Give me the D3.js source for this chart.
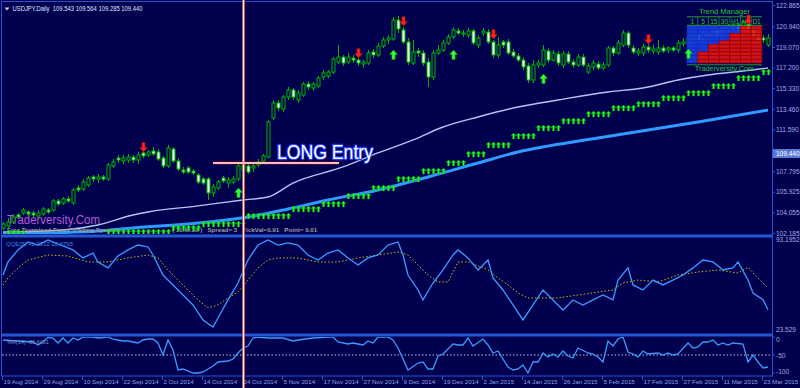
<!DOCTYPE html>
<html><head><meta charset="utf-8">
<script src="https://cdn.jsdelivr.net/npm/d3@7"></script>
<style>html,body{margin:0;padding:0;background:#00004f;overflow:hidden}</style>
</head><body><svg id="c" width="800" height="388"></svg>
<script>
// ---------------- DATA ----------------
const opens=[102.68,102.86,103.22,103.86,104.04,104.13,104.04,103.77,103.95,104.31,
104.31,105.13,104.95,105.31,104.95,106.31,106.22,106.58,107.31,107.13,
107.31,107.13,108.31,109.03,108.76,108.85,109.12,108.85,109.49,109.31,
109.67,109.58,109.03,108.31,109.85,108.76,107.94,108.13,107.85,107.49,
107.13,107.13,105.86,106.31,107.22,106.76,106.85,107.13,107.94,108.31,
108.13,108.40,108.76,109.12,112.67,114.03,113.48,114.57,115.21,114.30,
114.75,115.75,115.39,115.57,116.39,116.48,116.84,117.75,118.20,117.75,
118.11,117.93,117.57,117.66,118.66,118.39,119.20,119.75,119.84,121.56,
120.66,119.57,117.66,118.75,118.57,117.75,116.39,118.57,118.84,119.48,
120.02,120.57,120.29,120.20,120.57,119.29,120.38,120.47,119.57,118.39,
119.57,119.57,118.66,118.30,117.93,117.39,116.12,117.48,117.48,118.75,
117.93,118.48,117.48,118.48,117.75,117.48,118.20,116.84,117.30,117.57,
117.21,117.48,119.02,118.57,119.29,120.38,119.02,118.57,118.57,119.11,
118.75,118.66,119.02,118.84,119.02,118.84,119.39,119.39,119.75,120.20,
119.93,120.38,120.20,120.66,120.29,120.66,120.84,121.11,120.93,121.20,
120.66,120.11,119.93,119.29];
const highs=[103.22,103.59,103.95,104.04,104.49,104.31,104.22,104.31,104.58,104.49,
105.31,105.31,105.49,105.58,106.31,106.58,107.13,107.40,107.49,107.58,
107.49,108.58,108.94,109.31,109.31,109.40,109.31,109.58,109.67,109.76,
110.03,109.85,109.22,110.21,110.03,109.03,108.22,108.31,108.03,107.67,
107.31,107.31,106.67,107.04,107.40,107.31,107.40,108.49,108.58,108.58,
108.49,108.94,109.40,112.48,114.30,114.30,114.75,115.48,115.39,115.21,
115.94,116.03,115.94,116.48,117.02,117.02,118.20,119.29,118.39,118.57,
118.39,118.20,117.93,118.84,118.93,119.48,120.02,120.20,121.84,121.93,
120.93,119.93,119.75,119.02,118.84,118.11,118.84,119.29,119.75,120.29,
120.93,120.84,120.66,120.84,120.75,120.20,120.84,120.75,119.75,120.02,
119.75,119.84,118.93,118.57,118.20,117.66,117.93,117.93,119.29,119.02,
118.84,118.75,118.75,118.75,118.02,118.48,118.48,117.66,117.93,117.84,
117.75,119.20,119.20,119.75,120.66,120.57,119.29,119.02,119.39,119.39,
119.29,119.75,119.29,119.20,119.20,119.75,119.93,120.20,120.47,120.38,
120.66,120.57,120.84,120.84,121.02,121.20,121.29,121.29,121.56,121.29,
120.84,120.38,120.20,120.29];
const lows=[102.50,102.59,103.04,103.49,103.86,103.77,103.68,103.59,103.77,103.95,
104.13,104.68,104.77,104.95,104.77,105.95,106.04,106.40,106.85,106.76,
106.95,106.95,108.13,108.58,108.49,108.58,108.58,108.49,109.03,109.12,
109.22,108.76,108.13,108.13,108.58,107.85,107.58,107.58,107.49,106.67,
106.58,105.22,105.49,106.13,106.76,106.31,106.67,106.95,107.76,107.58,
107.76,108.22,108.58,109.03,112.48,113.30,113.21,114.30,114.30,114.03,
114.57,115.21,115.12,115.39,116.12,116.30,116.66,117.57,117.39,117.57,
117.66,117.39,117.21,117.48,118.11,118.20,119.02,119.39,119.66,120.38,
119.39,117.48,117.48,118.20,117.39,115.48,116.12,118.39,118.66,119.29,
119.84,120.20,120.02,119.93,119.29,119.02,120.11,119.39,118.11,118.11,
119.02,118.39,118.11,117.75,117.02,115.84,115.84,117.21,117.30,117.66,
117.75,117.39,117.21,117.57,117.21,117.30,117.30,116.66,117.02,117.02,
117.02,117.30,118.30,118.39,119.11,119.02,118.48,118.30,118.30,118.57,
118.48,118.39,118.57,118.57,118.66,118.57,119.11,119.11,119.48,119.57,
119.66,119.84,119.93,119.93,120.11,120.38,120.57,120.47,120.66,120.38,
119.93,119.48,119.48,119.11];
const closes=[103.04,103.22,103.68,103.68,104.31,103.95,103.86,104.04,104.40,104.13,
105.13,104.86,105.31,105.13,106.13,106.13,106.85,107.22,107.13,107.31,
107.13,108.40,108.67,108.85,109.03,109.12,108.85,109.31,109.22,109.58,
109.40,108.94,108.31,109.94,108.76,108.03,107.76,107.76,107.67,106.85,
106.76,105.86,106.40,106.85,106.95,107.04,107.13,108.31,108.40,107.76,
108.31,108.67,109.22,112.30,114.03,113.57,114.57,115.21,114.57,114.94,
115.75,115.48,115.75,116.30,116.75,116.84,118.02,118.20,117.66,118.20,
117.93,117.66,117.75,118.57,118.39,119.20,119.75,119.93,121.56,120.75,
119.57,117.75,118.66,118.57,117.66,116.39,118.57,118.84,119.48,120.02,
120.66,120.38,120.38,120.57,119.48,119.93,120.57,119.57,118.39,119.29,
119.29,118.57,118.30,117.93,117.30,116.12,117.48,117.66,118.84,117.93,
118.57,117.66,118.48,117.75,117.48,118.20,117.48,117.39,117.66,117.21,
117.48,119.02,118.57,119.48,120.38,119.29,118.66,118.75,119.11,118.84,
118.93,119.02,118.75,119.02,118.84,119.48,119.57,119.93,120.20,119.75,
120.38,120.11,120.66,120.11,120.84,121.02,121.11,120.66,121.38,120.66,
120.11,119.75,119.75,119.93];

const dateLabels=["19 Aug 2014","29 Aug 2014","10 Sep 2014","22 Sep 2014","2 Oct 2014","14 Oct 2014","24 Oct 2014","5 Nov 2014","17 Nov 2014","27 Nov 2014","9 Dec 2014","19 Dec 2014","2 Jan 2015","14 Jan 2015","26 Jan 2015","5 Feb 2015","17 Feb 2015","27 Feb 2015","11 Mar 2015","23 Mar 2015"];
const dateIdx=[0,8,16,24,32,40,48,56,64,72,80,88,96,104,112,120,128,136,144,152];
const priceTicks=[122.865,120.940,119.070,117.200,115.330,113.460,111.590,107.795,105.925,104.055,102.185];
const lastPrice=109.440;

const maFastIdx=[0,12,19,26,29,39,48,53,58,68,75,82,88,95,103,111,121,128,135,141,148,153];
const maFastVal=[102.31,102.50,102.95,103.86,104.13,104.68,105.22,105.49,106.76,108.22,109.49,110.67,111.85,112.76,113.66,114.30,115.03,115.39,116.12,116.57,116.93,117.21];
const maSlowIdx=[0,9,19,26,39,49,57,65,75,85,95,103,119,139,153];
const maSlowVal=[102.13,102.22,102.40,102.68,103.13,103.68,104.40,105.22,106.13,107.31,108.58,109.58,110.85,112.30,113.39];

const stopFrom=[1,21,34,40,49,58,64,69,74,79,84,89,93,97,102,107,112,117,122,127,132,137,142,147,152];
const stopTo=[4,33,39,48,57,63,68,73,78,83,88,92,96,101,106,111,116,121,126,131,136,141,146,151,153];
const stopPrice=[102.22,102.31,102.68,103.04,103.77,104.40,104.86,105.58,106.31,107.13,107.85,108.58,109.40,110.21,111.03,111.76,112.39,113.03,113.57,113.94,114.48,114.94,115.57,116.30,116.84];

const buyIdx=[47,78,90,108,137];
const buyPrice=[105.86,118.39,118.39,116.21,118.48];
const sellIdx=[28,71,80,98,129,149];
const sellPrice=[110.03,118.57,121.47,120.29,119.84,121.61];

const qqeIdx=[0,1,3,5,7,9,11,14,16,18,19,21,23,25,27,29,30,32,34,36,38,40,42,43,45,47,49,51,53,55,57,59,61,63,65,67,69,71,73,75,77,79,80,81,83,84,86,88,90,91,93,95,97,98,100,102,104,106,108,110,112,114,116,118,120,122,123,125,126,128,130,132,134,136,138,140,142,144,146,147,149,150,152,153];
const qqeVal=[66.1,76.2,85.5,91.7,89.3,93.2,90.1,85.5,79.3,83.1,76.2,71.6,80.8,85.5,89.3,87.8,81.6,66.1,58.4,50.6,42.9,31.3,25.9,32.8,46.8,59.9,77.7,89.3,93.2,89.3,90.9,89.3,81.6,77.7,83.1,85.5,79.3,73.8,79.3,81.6,89.3,91.7,81.6,66.1,54.5,46.8,59.9,70.0,81.6,85.5,79.3,70.0,77.7,63.8,54.5,42.9,31.3,42.9,54.5,46.8,39.0,46.8,42.9,46.8,50.6,46.8,62.2,71.6,58.4,54.5,62.2,58.4,62.2,66.1,71.6,77.7,76.2,70.0,71.6,76.2,62.2,52.2,47.0,39.2];
const qqeSlowIdx=[0,1,3,5,9,13,17,21,25,29,31,33,35,37,39,41,43,45,47,49,51,53,55,59,63,67,71,75,79,81,83,85,87,89,91,93,97,99,101,103,105,111,115,119,122,124,127,131,135,139,143,147,149,151,153];
const qqeSlowVal=[58.4,63.8,71.6,77.7,81.6,80.8,76.2,76.2,79.3,81.6,79.3,70.0,62.2,54.5,46.8,40.6,42.9,48.3,52.9,62.2,71.6,77.7,79.3,79.3,76.2,76.2,79.3,81.6,83.9,81.6,73.8,66.1,60.7,60.7,76.2,76.2,70.0,63.8,58.4,52.2,48.3,48.3,50.6,52.9,54.5,59.9,62.2,60.7,66.1,68.4,70.0,67.6,72.1,63.8,56.1];
const qqeTicks=[93.1952,23.529];

const wprIdx=[0,3,6,7,8,9,10,11,12,13,14,15,16,18,19,21,22,24,25,27,28,29,30,31,32,33,34,35,36,38,39,40,41,42,43,45,46,47,48,49,50,51,53,54,56,58,59,62,65,66,67,69,70,72,73,74,75,77,78,79,81,83,84,85,86,87,88,90,91,92,93,94,96,97,98,99,101,102,103,104,105,106,107,108,109,110,111,112,113,114,115,117,118,119,120,121,122,123,124,125,126,127,128,129,131,132,133,134,135,137,138,139,140,141,142,143,144,145,146,148,149,150,151,152,153];
const wprVal=[-8.3,-11.1,-13.9,-22.2,-13.9,-1,-2.8,-16.7,-2.8,-16.7,-2.8,-8.3,0,0,-2.8,0,-5.6,-11.1,-11.1,-16.7,-8.3,-5.6,-5.6,-16.7,-50,-8.3,-36.1,-91.7,-88.9,-100,-100,-97.2,-88.9,-80.6,-69.4,-66.7,-61.1,-44.4,-30.6,-25,-2.8,0,-2.8,-2.8,-2.8,-11.1,-8.3,-2.8,0,0,-13.9,-19.4,-16.7,-22.2,-11.1,-16.7,0,0,-8.3,-30.6,-91.7,-72.2,-69.4,-88.9,-88.9,-52.8,-47.2,-19.4,-22.2,-22.2,-2.8,-25,-5.6,-22.2,-44.4,-38.9,-83.3,-91.7,-88.9,-77.8,-100,-69.4,-69.4,-44.4,-55.6,-47.2,-55.6,-38.9,-52.8,-58.3,-30.6,-44.4,-47.2,-55.6,-69.4,-11.1,-25,-5.6,0,-41.7,-47.2,-55.6,-38.9,-47.2,-44.4,-50,-44.4,-50,-47.2,-16.7,-30.6,-27.8,-13.9,-13.9,-8.3,-22.2,-16.7,-22.2,-16.7,-19.4,-69.4,-50,-69.4,-86.1,-83.3];
const wprTicks=[0,-50,-100];

const tmFrames=["1","5","15","30","H1","H4","D1"];
const tmRedRows=[0,3,5,6,8,10,10];
const tmRows=10;

// ---------------- DRAW ----------------
const W=800,H=388,FONT='"Liberation Sans", Arial, sans-serif';
const NAVY='#00004f',FRAME='#2456d2',LBL='#a2aee4';
const N=closes.length;
const svg=d3.select('#c');
const x=d3.scaleLinear().domain([0,N-1]).range([3,3+5*(N-1)]);
const y=d3.scaleLinear().domain([102.185,122.865]).range([233.4,5.7]);
const qy=d3.scaleLinear().domain([23.529,93.1952]).range([330,240]);
const wy=d3.scaleLinear().domain([-100,0]).range([373,337]);
const wyLabel=d3.scaleLinear().domain([-100,0]).range([371.5,340]);

svg.append('rect').attr('width',W).attr('height',H).attr('fill',NAVY);
const defs=svg.append('defs');
function clip(id,x0,y0,w,h){defs.append('clipPath').attr('id',id).append('rect').attr('x',x0).attr('y',y0).attr('width',w).attr('height',h);}
clip('cm',2,2,770,232);clip('cq',2,238,770,95);clip('cw',2,337,770,38);

// frame
svg.append('rect').attr('x',1.5).attr('y',1.5).attr('width',771).attr('height',374.5).attr('fill','none').attr('stroke',FRAME).attr('stroke-width',1);
svg.append('rect').attr('x',1).attr('y',234.5).attr('width',772).attr('height',3).attr('fill',FRAME);
svg.append('rect').attr('x',1).attr('y',333.5).attr('width',772).attr('height',3).attr('fill',FRAME);

const gm=svg.append('g').attr('clip-path','url(#cm)');

// moving averages
const line=d3.line().curve(d3.curveMonotoneX);
gm.append('path').attr('d',line(maSlowIdx.map((d,k)=>[x(d),y(maSlowVal[k])]))).attr('fill','none').attr('stroke','#2f9bff').attr('stroke-width',3);
gm.append('path').attr('d',line(maFastIdx.map((d,k)=>[x(d),y(maFastVal[k])]))).attr('fill','none').attr('stroke','#b4c4f4').attr('stroke-width',1.4);

// info text line
gm.append('text').attr('x',7).attr('y',232).attr('font-family',FONT).attr('font-size',6.2).attr('font-weight','bold').attr('fill','#9c9c9c')
 .text('Free Download Forex Trading System');
gm.append('text').attr('x',172).attr('y',232).attr('font-family',FONT).attr('font-size',6.2).attr('font-weight','bold').attr('fill','#9c9c9c')
 .attr('xml:space','preserve').text('( 11:M:38 )   Spread= 3   TickVal=0.91   Point= 0.01');

// stop arrows
const stops=[];stopFrom.forEach((f,k)=>{for(let i=f;i<=stopTo[k];i++)stops.push({i,p:stopPrice[k]});});
const smallArrow='M0,-3 L2.5,-0.5 L1,-0.5 L1,3 L-1,3 L-1,-0.5 L-2.5,-0.5 Z';
gm.selectAll('.st').data(stops).join('path').attr('d',smallArrow)
 .attr('transform',d=>`translate(${x(d.i)+0.5},${y(d.p)})`).attr('fill','#22ff22').attr('stroke','#009000').attr('stroke-width',0.4);

// watermark
gm.append('text').attr('x',7).attr('y',224).attr('font-family',FONT).attr('font-size',13.5).attr('fill','#b65ad6')
 .attr('textLength',93).attr('lengthAdjust','spacingAndGlyphs').text('Traderversity.Com');

// candles
const bars=d3.range(N).map(i=>({i,o:opens[i],h:highs[i],l:lows[i],c:closes[i]}));
gm.selectAll('.wk').data(bars).join('line').attr('x1',d=>x(d.i)+0.5).attr('x2',d=>x(d.i)+0.5)
 .attr('y1',d=>y(d.h)).attr('y2',d=>y(d.l)).attr('stroke','#00b400').attr('stroke-width',1);
gm.selectAll('.bd').data(bars).join('rect').attr('x',d=>x(d.i)-1).attr('width',3)
 .attr('y',d=>y(Math.max(d.o,d.c))).attr('height',d=>Math.max(1,Math.abs(y(d.o)-y(d.c))))
 .attr('fill',d=>d.c>=d.o?NAVY:'#f4fff4').attr('stroke','#00b400').attr('stroke-width',1);

// Trend manager box (drawn over the candles, slightly see-through)
const tm=gm.append('g');
const tx0=687,tcw=10.7,tTop=26,tRh=3.7,tGreen='#2fc02f';
tmFrames.forEach((f,c)=>{
  for(let r=0;r<tmRows;r++){
    const red=r>=tmRows-tmRedRows[c];
    tm.append('rect').attr('x',tx0+c*tcw).attr('y',tTop+r*tRh).attr('width',tcw).attr('height',tRh)
      .attr('fill',red?'#e81414':'#1a3ef0').attr('fill-opacity',0.88).attr('stroke',red?'#9a0000':'#1030b8').attr('stroke-width',0.7);
  }
  tm.append('text').attr('x',tx0+c*tcw+tcw/2).attr('y',24).attr('text-anchor','middle').attr('font-family',FONT).attr('font-size',6.5).attr('fill',tGreen).text(f);
  if(c>0)tm.append('line').attr('x1',tx0+c*tcw).attr('x2',tx0+c*tcw).attr('y1',17).attr('y2',25).attr('stroke',tGreen).attr('stroke-width',0.6);
});
[16.8,25.3,64.8].forEach(v=>tm.append('line').attr('x1',tx0).attr('x2',tx0+7*tcw).attr('y1',v).attr('y2',v).attr('stroke',tGreen).attr('stroke-width',0.8));
tm.append('text').attr('x',tx0+3.5*tcw).attr('y',14).attr('text-anchor','middle').attr('font-family',FONT).attr('font-size',7.5).attr('fill',tGreen).text('Trend Manager');
tm.append('text').attr('x',tx0+3.5*tcw).attr('y',71).attr('text-anchor','middle').attr('font-family',FONT).attr('font-size',7.3).attr('fill',tGreen).text('Traderversity.Com');

// signal arrows
const bigUp='M0,-5 L4,-0.5 L1.6,-0.5 L1.6,4.5 L-1.6,4.5 L-1.6,-0.5 L-4,-0.5 Z';
gm.selectAll('.bu').data(buyIdx).join('path').attr('d',bigUp)
 .attr('transform',(d,k)=>`translate(${x(d)+0.5},${y(buyPrice[k])})`).attr('fill','#30ff30').attr('stroke','#00a000').attr('stroke-width',0.5);
gm.selectAll('.se').data(sellIdx).join('path').attr('d',bigUp)
 .attr('transform',(d,k)=>`translate(${x(d)+0.5},${y(sellPrice[k])}) scale(1,-1)`).attr('fill','#ff2020').attr('stroke','#a00000').attr('stroke-width',0.5);

// LONG Entry
svg.append('text').attr('x',277).attr('y',159).attr('font-family',FONT).attr('font-size',21).attr('fill','#ffffff')
 .attr('stroke','#1f3cff').attr('stroke-width',2.4).attr('paint-order','stroke').attr('stroke-linejoin','round')
 .attr('textLength',96).attr('lengthAdjust','spacingAndGlyphs').text('LONG Entry');

// title
svg.append('path').attr('d','M4.5,7.5 L9.5,7.5 L7,10.5 Z').attr('fill','#c8d0ff');
svg.append('text').attr('x',12.5).attr('y',11).attr('font-family',FONT).attr('font-size',6.3).attr('fill','#dfe4ff')
 .attr('textLength',130).attr('lengthAdjust','spacingAndGlyphs').attr('xml:space','preserve').text('USDJPY,Daily  109.543 109.564 109.285 109.440');

// price axis
priceTicks.forEach(p=>{
  svg.append('line').attr('x1',772).attr('x2',775).attr('y1',y(p)).attr('y2',y(p)).attr('stroke',FRAME);
  svg.append('text').attr('x',776).attr('y',y(p)).attr('dy','0.35em').attr('font-family',FONT).attr('font-size',6.5).attr('fill',LBL).text(p.toFixed(3));
});
svg.append('rect').attr('x',773).attr('y',y(lastPrice)-4.5).attr('width',27).attr('height',9).attr('fill','#5a7ad6');
svg.append('text').attr('x',776).attr('y',y(lastPrice)).attr('dy','0.35em').attr('font-family',FONT).attr('font-size',6.5).attr('fill','#ffffff').text(lastPrice.toFixed(3));

// QQE panel
const gq=svg.append('g').attr('clip-path','url(#cq)');
const lin=d3.line();
gq.append('path').attr('d',lin(qqeSlowIdx.map((d,k)=>[x(d),qy(qqeSlowVal[k])]))).attr('fill','none').attr('stroke','#c8c000').attr('stroke-width',1).attr('stroke-dasharray','1.5,2');
gq.append('path').attr('d',lin(qqeIdx.map((d,k)=>[x(d),qy(qqeVal[k])]))).attr('fill','none').attr('stroke','#3a9cff').attr('stroke-width',1.3);
svg.append('text').attr('x',6).attr('y',246).attr('font-family',FONT).attr('font-size',6).attr('fill','#3c86e8')
 .attr('textLength',67).attr('lengthAdjust','spacingAndGlyphs').text('QQE(5) 41.3912 28.6795');
qqeTicks.forEach(v=>{
  svg.append('text').attr('x',776).attr('y',qy(v)).attr('dy','0.35em').attr('font-family',FONT).attr('font-size',6.5).attr('fill',LBL).text(String(v));
});

// WPR panel
const gw=svg.append('g').attr('clip-path','url(#cw)');
gw.append('line').attr('x1',2).attr('x2',772).attr('y1',wy(-50)).attr('y2',wy(-50)).attr('stroke','#c8c8d8').attr('stroke-width',1).attr('stroke-dasharray','1.5,2');
gw.append('path').attr('d',lin(wprIdx.map((d,k)=>[x(d),wy(wprVal[k])]))).attr('fill','none').attr('stroke','#3a9cff').attr('stroke-width',1.3);
svg.append('text').attr('x',7).attr('y',344).attr('font-family',FONT).attr('font-size',5.5).attr('fill','#8092cc').text('%R(14) -86.6451');
wprTicks.forEach(v=>{
  svg.append('line').attr('x1',772).attr('x2',775).attr('y1',wy(v)).attr('y2',wy(v)).attr('stroke',FRAME);
  svg.append('text').attr('x',776).attr('y',wyLabel(v)).attr('dy','0.35em').attr('font-family',FONT).attr('font-size',6.5).attr('fill',LBL).text(String(v));
});

// time axis
dateIdx.forEach((d,k)=>{
  svg.append('line').attr('x1',x(d)-0.5).attr('x2',x(d)-0.5).attr('y1',376).attr('y2',380).attr('stroke',FRAME);
  svg.append('text').attr('x',x(d)+0.5).attr('y',384).attr('font-family',FONT).attr('font-size',6.2).attr('fill','#8ea2e0').text(dateLabels[k]);
});

// crosshair
const cx=x(48)+0.5;
svg.append('rect').attr('x',cx-1.3).attr('y',0).attr('width',2.6).attr('height',H).attr('fill','#e00000');
svg.append('line').attr('x1',cx).attr('x2',cx).attr('y1',0).attr('y2',H).attr('stroke','#ffffff').attr('stroke-width',1.6);
const hy=y(108.58);
svg.append('rect').attr('x',213).attr('y',hy-1.3).attr('width',126).attr('height',2.6).attr('fill','#e00000');
svg.append('line').attr('x1',213).attr('x2',339).attr('y1',hy).attr('y2',hy).attr('stroke','#ffffff').attr('stroke-width',1.6);
</script></body></html>
